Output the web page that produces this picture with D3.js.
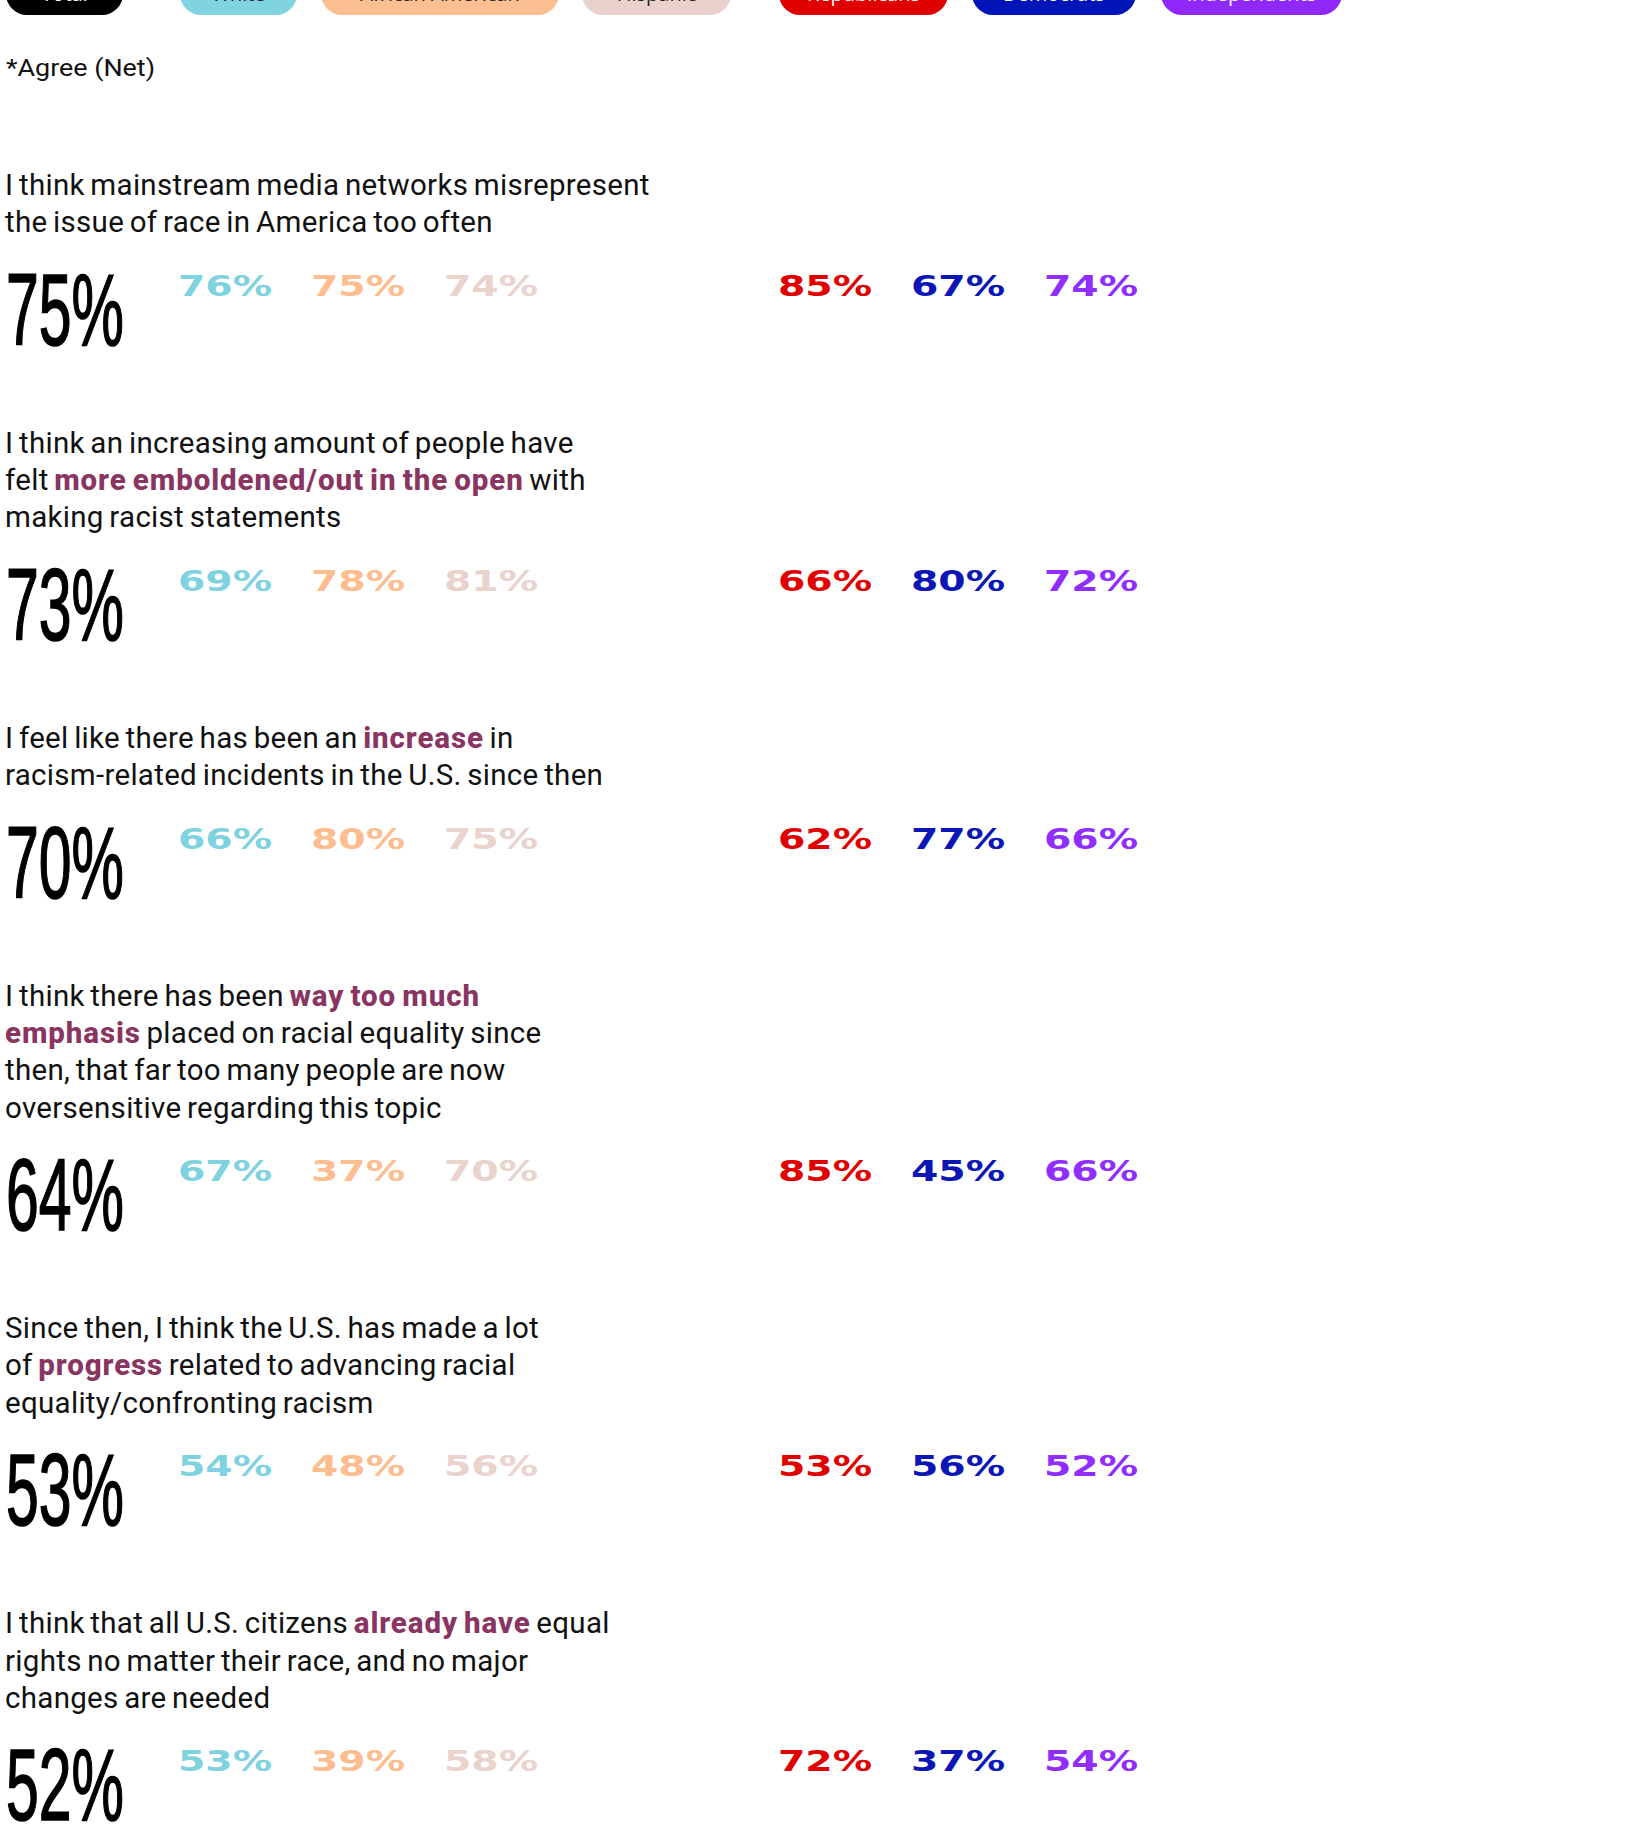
<!DOCTYPE html>
<html><head><meta charset="utf-8">
<script src="https://cdn.jsdelivr.net/npm/d3@7"></script>
<style>html,body{margin:0;padding:0;background:#fff;overflow:hidden}svg{display:block}</style>
</head><body>
<svg id="chart" width="1631" height="1825"></svg>
<script>
// ---------- data ----------
const groups = ["Total", "White", "African American", "Hispanic", "Republicans", "Democrats", "Independents"];
const questions = [
  ["I think mainstream media networks misrepresent", "the issue of race in America too often"],
  ["I think an increasing amount of people have", "felt **more emboldened/out in the open** with", "making racist statements"],
  ["I feel like there has been an **increase** in", "racism-related incidents in the U.S. since then"],
  ["I think there has been **way too much**", "**emphasis** placed on racial equality since", "then, that far too many people are now", "oversensitive regarding this topic"],
  ["Since then, I think the U.S. has made a lot", "of **progress** related to advancing racial", "equality/confronting racism"],
  ["I think that all U.S. citizens **already have** equal", "rights no matter their race, and no major", "changes are needed"]
];
const total       = [75, 73, 70, 64, 53, 52];
const white       = [76, 69, 66, 67, 54, 53];
const africanAm   = [75, 78, 80, 37, 48, 39];
const hispanic    = [74, 81, 75, 70, 56, 58];
const republicans = [85, 66, 62, 85, 53, 72];
const democrats   = [67, 80, 77, 45, 56, 37];
const independents= [74, 72, 66, 66, 52, 54];
const footnote = "*Agree (Net)";

// ---------- styles / layout ----------
const pillFill = ["#000000", "#80d3e1", "#fcbf92", "#ead1cb", "#e00000", "#0014b8", "#9028fa"];
const pillInk  = ["#ffffff", "#262626", "#262626", "#262626", "#ffffff", "#ffffff", "#ffffff"];
const pillLeft = [6, 180, 321, 582, 779, 972, 1161];
const pillWidth = [117, 117, 238, 149, 169, 164, 181];
const valueInk = ["#000000", "#7fd2e0", "#fdbd8f", "#ead3cd", "#e00000", "#0a16b5", "#902dff"];
const highlightInk = "#8a3461";
const textInk = "#111111";

const svg = d3.select("#chart");
const fmt = d => d + "%";

// ---------- legend pills (cropped at the top of the picture) ----------
const pillH = 44, pillBottom = 15;
const legend = svg.selectAll("g.pill").data(groups).join("g").attr("class", "pill");
legend.append("rect")
  .attr("x", (d, i) => pillLeft[i]).attr("y", pillBottom - pillH)
  .attr("width", (d, i) => pillWidth[i]).attr("height", pillH)
  .attr("rx", 21).attr("fill", (d, i) => pillFill[i]);
legend.append("text")
  .attr("x", (d, i) => pillLeft[i] + pillWidth[i] / 2).attr("y", 1)
  .attr("text-anchor", "middle")
  .attr("font-family", "Open Sans, sans-serif").attr("font-size", 20).attr("font-weight", 500)
  .attr("fill", (d, i) => pillInk[i])
  .text(d => d);

// footnote
svg.append("text").text(footnote)
  .attr("x", 6).attr("y", 76)
  .attr("font-family", "Roboto, sans-serif").attr("font-size", 24).attr("font-weight", 400)
  .attr("textLength", 149).attr("lengthAdjust", "spacingAndGlyphs")
  .attr("fill", textInk);

// ---------- rows ----------
const series = [total, white, africanAm, hispanic, republicans, democrats, independents];
const x = d3.scaleOrdinal().domain(groups.slice(1)).range([178, 311, 444, 778, 911, 1044]);

const lineH = 37.3, firstBase = 195, bigGap = 112.5, rowGap = 108;
const rows = [];
let yb = firstBase;
questions.forEach((lines, r) => {
  const lineYs = lines.map((_, k) => yb + k * lineH);
  const bigY = lineYs[lineYs.length - 1] + bigGap;
  rows.push({ lines, lineYs, bigY, r });
  yb = bigY + rowGap;
});

const rowG = svg.selectAll("g.row").data(rows).join("g").attr("class", "row");

// question text
rowG.each(function (d) {
  const g = d3.select(this);
  d.lines.forEach((ln, k) => {
    const t = g.append("text").attr("x", 5).attr("y", d.lineYs[k])
      .attr("font-family", "Roboto, sans-serif").attr("font-size", 29.5)
      .attr("letter-spacing", 0.3).attr("word-spacing", -2)
      .attr("fill", textInk).attr("xml:space", "preserve");
    ln.split("**").forEach((seg, s) => {
      if (!seg) return;
      const ts = t.append("tspan").text(seg);
      if (s % 2 === 1) ts.attr("font-weight", 800).attr("fill", highlightInk).attr("letter-spacing", 0.9);
    });
  });
});

// big total number (tall condensed)
const bigWidth = 118;
rowG.append("text")
  .attr("font-family", "Liberation Sans, Arial, sans-serif").attr("font-size", 102)
  .attr("fill", valueInk[0]).attr("stroke", valueInk[0]).attr("stroke-width", 1.6)
  .text(d => fmt(total[d.r]))
  .attr("transform", function (d) {
    const w = this.getComputedTextLength();
    return `translate(6,${d.bigY}) scale(${bigWidth / w},1)`;
  });

// group values (wide bold)
const valueScaleX = 1.38;
groups.slice(1).forEach((g, gi) => {
  const arr = series[gi + 1];
  rowG.append("text")
    .attr("transform", d => `translate(${x(g)},${d.bigY - 49}) scale(${valueScaleX},1)`)
    .attr("font-family", "DejaVu Sans, sans-serif").attr("font-size", 28.5).attr("font-weight", 700)
    .attr("fill", valueInk[gi + 1])
    .text(d => fmt(arr[d.r]));
});
</script>
</body></html>
